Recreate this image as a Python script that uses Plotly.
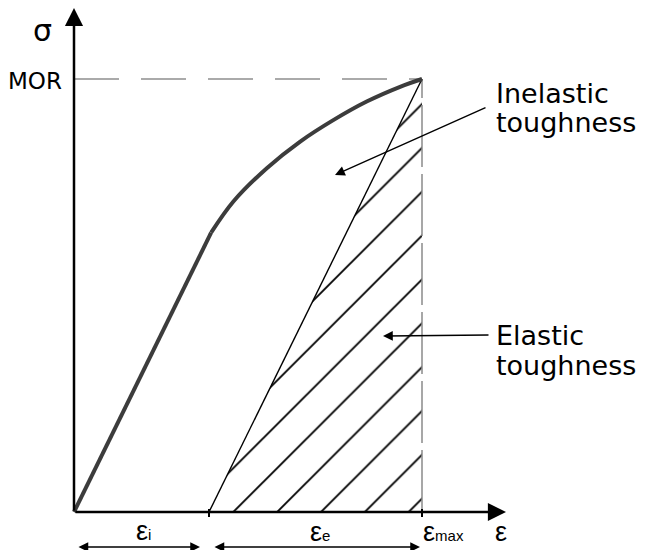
import plotly.graph_objects as go

# ---------------- data (normalised units: eps_max = 1, MOR = 1) ----------------
eps_i = 0.388
eps_max = 1.0
MOR = 1.0
# linear (elastic) part of the stress-strain curve
lin_x = [0.0, 0.394]
lin_y = [0.0, 0.645]
# non-linear part up to MOR
nl_x = [0.394, 0.458, 0.554, 0.649, 0.745, 0.841, 0.937, 1.0]
nl_y = [0.645, 0.717, 0.794, 0.855, 0.905, 0.948, 0.982, 1.0]

# ---------------- layout geometry ----------------
W, H = 665, 550
X0, XS = 74, 348      # pixel of x=0, pixels per unit
Y0, YS = 512, 433     # pixel of y=0, pixels per unit
def px_x(p):  # pixel column -> data x
    return (p - X0) / XS
def px_y(p):  # pixel row -> data y
    return (Y0 - p) / YS
def dx(p):
    return p / XS
def dy(p):
    return p / YS

fig = go.Figure()

# hatched elastic-toughness triangle
fig.add_trace(go.Scatter(
    x=[eps_i, eps_max, eps_max, eps_i], y=[0, MOR, 0, 0],
    mode="lines", fill="toself", line=dict(width=0, color="black"),
    fillcolor="rgba(0,0,0,0)",
    fillpattern=dict(shape="/", size=31, solidity=0.06, fgcolor="black",
                     fgopacity=1, bgcolor="rgba(0,0,0,0)"),
    hoverinfo="skip", showlegend=False))

# dashed guide lines
fig.add_trace(go.Scatter(x=[0, eps_max], y=[MOR, MOR], mode="lines",
                         line=dict(color="#aaaaaa", width=2, dash="45px,22px"),
                         hoverinfo="skip", showlegend=False))
fig.add_trace(go.Scatter(x=[eps_max, eps_max], y=[0, MOR], mode="lines",
                         line=dict(color="#8a8a8a", width=1.5, dash="62px,7px"),
                         hoverinfo="skip", showlegend=False))

# elastic unloading line
fig.add_trace(go.Scatter(x=[eps_i, eps_max], y=[0, MOR], mode="lines",
                         line=dict(color="black", width=1.4),
                         hoverinfo="skip", showlegend=False))

# stress-strain curve
fig.add_trace(go.Scatter(x=lin_x, y=lin_y, mode="lines",
                         line=dict(color="#3c3c3c", width=4),
                         hoverinfo="skip", showlegend=False))
fig.add_trace(go.Scatter(x=nl_x, y=nl_y, mode="lines",
                         line=dict(color="#3c3c3c", width=4, shape="spline", smoothing=1.0),
                         hoverinfo="skip", showlegend=False))

# small ticks on strain axis
fig.add_trace(go.Scatter(x=[eps_i, eps_i, None, eps_max, eps_max],
                         y=[-dy(5), dy(3), None, -dy(5), dy(3)], mode="lines",
                         line=dict(color="black", width=2),
                         hoverinfo="skip", showlegend=False))

ann = []
def arrow(x, y, ax, ay, width, size, head=2, both=False):
    d = dict(x=x, y=y, ax=ax, ay=ay, xref="x", yref="y", axref="x", ayref="y",
             text="", showarrow=True, arrowhead=head, arrowwidth=width,
             arrowsize=size, arrowcolor="black", standoff=0, startstandoff=0)
    if both:
        d.update(arrowside="end+start", startarrowhead=head, startarrowsize=size)
    ann.append(d)

# axes
arrow(0, px_y(8), 0, 0, 2.5, 1.45)
arrow(px_x(506), 0, 0, 0, 2.5, 1.45)
# strain-component dimension arrows
ya = px_y(547)
arrow(eps_i - dx(9), ya, dx(3), ya, 1.5, 1.3, both=True)
arrow(eps_max - dx(2), ya, eps_i + dx(4), ya, 1.5, 1.3, both=True)
# pointer arrows
arrow(px_x(335), px_y(175), px_x(487), px_y(107), 1.4, 1.4)
arrow(px_x(383), px_y(336), px_x(490), px_y(335), 1.4, 1.4)

def label(text, x, y, size, family, xanchor="center"):
    ann.append(dict(x=x, y=y, xref="x", yref="y", text=text, showarrow=False,
                    xanchor=xanchor, yanchor="middle",
                    font=dict(size=size, family=family, color="black")))

TXT = "DejaVu Sans"
label("σ", px_x(42), px_y(30), 30, TXT)
label("MOR", px_x(64), px_y(81), 23, TXT, xanchor="right")
label("Inelastic", px_x(494), px_y(93), 27, TXT, xanchor="left")
label("toughness", px_x(494), px_y(122), 27, TXT, xanchor="left")
label("Elastic", px_x(494), px_y(335), 27, TXT, xanchor="left")
label("toughness", px_x(494), px_y(365), 27, TXT, xanchor="left")

EPS = "Liberation Sans"
label("ε<span style='font-size:15px'>i</span>", px_x(143), px_y(531), 27, EPS)
label("ε<span style='font-size:15px'>e</span>", px_x(320), px_y(532), 27, EPS)
label("ε<span style='font-size:15px'>max</span>", px_x(421), px_y(532), 27, EPS, xanchor="left")
label("ε", px_x(501), px_y(532), 27, EPS)

fig.update_layout(
    width=W, height=H,
    margin=dict(l=0, r=0, t=0, b=0),
    paper_bgcolor="white", plot_bgcolor="white",
    xaxis=dict(range=[px_x(0), px_x(W)], visible=False, fixedrange=True),
    yaxis=dict(range=[px_y(H), px_y(0)], visible=False, fixedrange=True),
    annotations=ann,
    showlegend=False,
)

fig.write_html("out.html")
